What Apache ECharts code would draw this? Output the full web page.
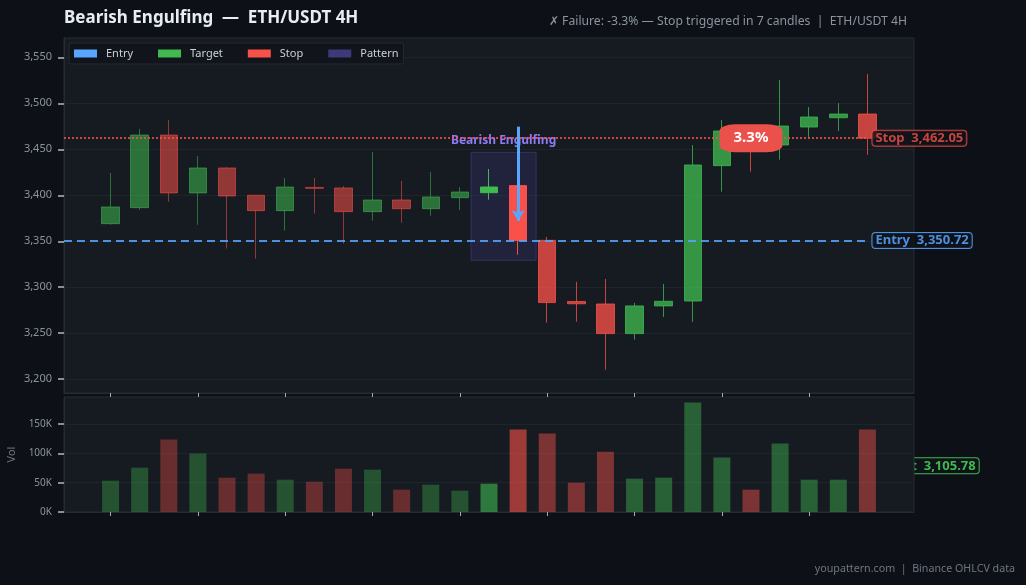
<!DOCTYPE html>
<html>
<head>
<meta charset="utf-8">
<script src="https://cdn.jsdelivr.net/npm/echarts@6/dist/echarts.min.js"></script>
<style>
html,body{margin:0;padding:0;background:#0d1017;}
#c{width:1026px;height:585px;}
</style>
</head>
<body>
<div id="c"></div>
<script>
// ---- Data ----
const opens  = [3369.1, 3386.5, 3465.5, 3402.5, 3429.7, 3400.0, 3383.3, 3408.5, 3408.0, 3382.2, 3394.9, 3385.4, 3397.4, 3402.8, 3410.5, 3351.0, 3284.5, 3281.8, 3249.6, 3279.7, 3285.0, 3432.2, 3469.9, 3454.7, 3474.2, 3484.3, 3488.3];
const closes = [3387.3, 3465.5, 3402.5, 3429.7, 3399.2, 3383.3, 3409.0, 3407.5, 3382.2, 3394.9, 3385.4, 3398.2, 3403.6, 3409.0, 3350.72, 3283.3, 3282.0, 3249.6, 3279.7, 3284.7, 3432.9, 3469.9, 3452.0, 3475.3, 3485.1, 3488.3, 3462.1];
const lows   = [3368.0, 3384.3, 3393.0, 3368.0, 3342.0, 3331.1, 3361.5, 3380.0, 3347.4, 3372.4, 3370.2, 3377.8, 3384.0, 3395.2, 3335.4, 3261.5, 3262.6, 3210.4, 3243.0, 3267.7, 3262.3, 3403.9, 3425.7, 3438.7, 3462.3, 3469.9, 3444.0];
const highs  = [3424.2, 3472.1, 3481.8, 3442.7, 3430.5, 3400.5, 3418.8, 3418.8, 3410.0, 3447.0, 3415.5, 3425.3, 3409.0, 3428.6, 3411.0, 3354.7, 3305.8, 3309.0, 3283.0, 3303.6, 3454.6, 3481.8, 3474.0, 3525.3, 3495.9, 3500.2, 3531.8];
const volumes = [53400, 75600, 123400, 99500, 58500, 65400, 55100, 51700, 73900, 72200, 38100, 46600, 36400, 48300, 140500, 133600, 50000, 102900, 56800, 58500, 186500, 92700, 38100, 116600, 55100, 55100, 140500];

const entryPrice = 3350.72;
const stopPrice = 3462.05;
const targetPrice = 3105.78;
const patternStart = 13;
const patternEnd = 14;
const patternTop = 3446.7;
const patternBottom = 3329.3;
const arrowFrom = 3474.6;
const arrowTo = 3372.0;
const badgeIndex = 22;
const badgeText = '3.3%';
const patternName = 'Bearish Engulfing';
const titleText = 'Bearish Engulfing  \u2014  ETH/USDT 4H';
const subText = '\u2717 Failure: -3.3% \u2014 Stop triggered in 7 candles  |  ETH/USDT 4H';
const footerText = 'youpattern.com  |  Binance OHLCV data';
const legendNames = ['Entry', 'Target', 'Stop', 'Pattern'];
const xTicks = [0, 3, 6, 9, 12, 15, 18, 21, 24];

// ---- Styling ----
const GREEN = '#3fb950', RED = '#f85149', BLUE = '#58a6ff', PURPLE = '#3d3a7a';
const FONT = 'Noto Sans';
const xMin = -1.6, xMax = 27.6;
const lastIdx = opens.length - 1;
const fmt = v => v.toLocaleString('en-US', {minimumFractionDigits: 2, maximumFractionDigits: 2});

function candleAlpha(i) { return i < patternStart ? 0.55 : (i <= patternEnd ? 1 : 0.78); }
function volAlpha(i) { return i < patternStart ? 0.36 : (i <= patternEnd ? 0.6 : 0.45); }
function rgba(hex, a) {
  const n = parseInt(hex.slice(1), 16);
  return 'rgba(' + (n >> 16) + ',' + ((n >> 8) & 255) + ',' + (n & 255) + ',' + a + ')';
}

const candleData = opens.map((o, i) => ({
  value: [i, o, closes[i], lows[i], highs[i]],
  itemStyle: { opacity: candleAlpha(i) }
}));
const volData = volumes.map((v, i) => ({
  value: [i, v],
  itemStyle: { color: rgba(closes[i] >= opens[i] ? GREEN : RED, volAlpha(i)) }
}));

const tagStyle = {
  fontSize: 13, fontWeight: 'bold', fontFamily: FONT,
  backgroundColor: '#0f1319', borderWidth: 1, borderRadius: 3, padding: [1, 3]
};
function levelLabel(name, price, color) {
  return Object.assign({
    show: true, position: 'end', distance: 5,
    formatter: name + '  ' + fmt(price),
    color: color, borderColor: color
  }, tagStyle);
}

const yTick = { show: true, inside: false, length: 6, lineStyle: { color: '#b0b8c2', width: 1.5, opacity: 1 } };
const xTick = { show: true, inside: false, customValues: xTicks, length: 4, lineStyle: { color: '#a3abb5', width: 1, opacity: 1 } };
const axisLineStyle = { show: true, onZero: false, lineStyle: { color: '#262b34', width: 1 } };

const option = {
  backgroundColor: '#0d1017',
  animation: false,
  textStyle: { fontFamily: FONT },
  title: [
    { text: titleText, left: 64, top: 10, padding: 0, textStyle: { color: '#e6edf3', fontSize: 17, fontWeight: 'bold', fontFamily: FONT } },
    { text: subText, right: 119, top: 16, padding: 0, textStyle: { color: '#8b949e', fontSize: 12.2, fontWeight: 'normal', fontFamily: FONT } },
    { text: footerText, right: 11, bottom: 11, padding: 0, textStyle: { color: '#6e7681', fontSize: 10.7, fontWeight: 'normal', fontFamily: FONT } }
  ],
  legend: {
    data: legendNames, left: 69, top: 43, icon: 'rect', itemWidth: 23, itemHeight: 8, itemGap: 25,
    padding: [5, 5], backgroundColor: '#11151b', borderColor: '#242932', borderWidth: 1, borderRadius: 2,
    selectedMode: false,
    textStyle: { color: '#c9d1d9', fontSize: 11, fontFamily: FONT, padding: [0, 0, 0, 4] }
  },
  grid: [
    { left: 64, right: 112, top: 38, height: 355, show: true, backgroundColor: '#161a21', borderColor: '#262b34', borderWidth: 1, containLabel: false, outerBoundsMode: 'none' },
    { left: 64, right: 112, top: 397, height: 115, show: true, backgroundColor: '#161a21', borderColor: '#262b34', borderWidth: 1, containLabel: false, outerBoundsMode: 'none' }
  ],
  xAxis: [0, 1].map(g => ({
    type: 'value', gridIndex: g, min: xMin, max: xMax, position: 'bottom',
    axisLine: axisLineStyle, axisLabel: { show: false }, splitLine: { show: false },
    axisTick: xTick
  })),
  yAxis: [
    {
      type: 'value', gridIndex: 0, min: 3185, max: 3571, splitNumber: 8, position: 'left',
      axisLine: axisLineStyle,
      axisTick: yTick,
      axisLabel: { color: '#8b949e', fontSize: 11, margin: 12, showMinLabel: false, showMaxLabel: false, formatter: v => v.toLocaleString('en-US') },
      splitLine: { lineStyle: { color: '#1f242c', width: 1 } }
    },
    {
      type: 'value', gridIndex: 1, min: 0, max: 196000, splitNumber: 4, position: 'left',
      name: 'Vol', nameLocation: 'middle', nameGap: 43, nameRotate: 90,
      nameTextStyle: { color: '#6e7681', fontSize: 11, fontFamily: FONT },
      axisLine: axisLineStyle,
      axisTick: yTick,
      axisLabel: { color: '#8b949e', fontSize: 10, margin: 12, showMaxLabel: false, formatter: v => (v / 1000) + 'K' },
      splitLine: { lineStyle: { color: '#1f242c', width: 1 } }
    }
  ],
  series: [
    {
      name: 'Price', type: 'candlestick', xAxisIndex: 0, yAxisIndex: 0,
      data: candleData, encode: { x: 0, y: [1, 2, 3, 4] }, barWidth: 18,
      itemStyle: { color: GREEN, color0: RED, borderColor: GREEN, borderColor0: RED, borderWidth: 1 },
      markArea: {
        silent: true, z: 1,
        itemStyle: { color: 'rgba(88,80,190,0.17)', borderColor: 'rgba(110,100,220,0.3)', borderWidth: 1 },
        label: { show: true, position: 'top', distance: 5, color: '#8b7cf6', fontWeight: 'bold', fontSize: 12, fontFamily: FONT },
        data: [[
          { name: patternName, coord: [patternStart - 0.62, patternTop] },
          { coord: [patternEnd + 0.62, patternBottom] }
        ]]
      },
      markLine: {
        silent: true, symbol: ['none', 'none'], z: 5,
        data: [
          [
            { coord: [xMin, entryPrice], lineStyle: { color: BLUE, type: [8, 5], width: 2, opacity: 0.85 }, label: levelLabel('Entry', entryPrice, BLUE) },
            { coord: [lastIdx, entryPrice] }
          ],
          [
            { coord: [xMin, stopPrice], lineStyle: { color: RED, type: 'dotted', width: 2, opacity: 0.8 }, label: levelLabel('Stop', stopPrice, RED) },
            { coord: [lastIdx, stopPrice] }
          ],
          [
            { coord: [patternEnd, arrowFrom], symbol: 'none', lineStyle: { color: BLUE, type: 'solid', width: 3, opacity: 1 }, label: { show: false } },
            { coord: [patternEnd, arrowTo], symbol: 'arrow', symbolSize: [10, 11] }
          ]
        ]
      },
      markPoint: {
        silent: true, z: 6,
        symbol: 'roundRect', symbolSize: [63, 28],
        itemStyle: { color: '#eb514b' },
        label: { show: true, position: 'inside', formatter: badgeText, color: '#ffffff', fontSize: 15, fontWeight: 'bold', fontFamily: FONT },
        data: [{ coord: [badgeIndex, stopPrice] }]
      }
    },
    {
      name: 'Volume', type: 'bar', xAxisIndex: 1, yAxisIndex: 1,
      data: volData, barWidth: 17
    },
    { name: 'Entry', type: 'bar', xAxisIndex: 0, yAxisIndex: 0, data: [], itemStyle: { color: BLUE } },
    { name: 'Target', type: 'bar', xAxisIndex: 0, yAxisIndex: 0, data: [], itemStyle: { color: GREEN } },
    { name: 'Stop', type: 'bar', xAxisIndex: 0, yAxisIndex: 0, data: [], itemStyle: { color: RED } },
    { name: 'Pattern', type: 'bar', xAxisIndex: 0, yAxisIndex: 0, data: [], itemStyle: { color: PURPLE } }
  ]
};

const chart = echarts.init(document.getElementById('c'), null, { renderer: 'canvas' });
chart.setOption(option);

// Target level lies below the visible price range; place its tag through the price scale.
const tp = chart.convertToPixel({ gridIndex: 0 }, [lastIdx, targetPrice]);
chart.setOption({
  graphic: [{
    type: 'text', z: -1, silent: true,
    x: tp[0] + 5, y: tp[1],
    style: {
      text: 'Target  ' + fmt(targetPrice),
      fill: GREEN, font: 'bold 13px "' + FONT + '"',
      align: 'left', verticalAlign: 'middle',
      backgroundColor: '#0f1319', borderColor: GREEN, borderWidth: 1, borderRadius: 3, padding: [1, 3]
    }
  }]
});
</script>
</body>
</html>
